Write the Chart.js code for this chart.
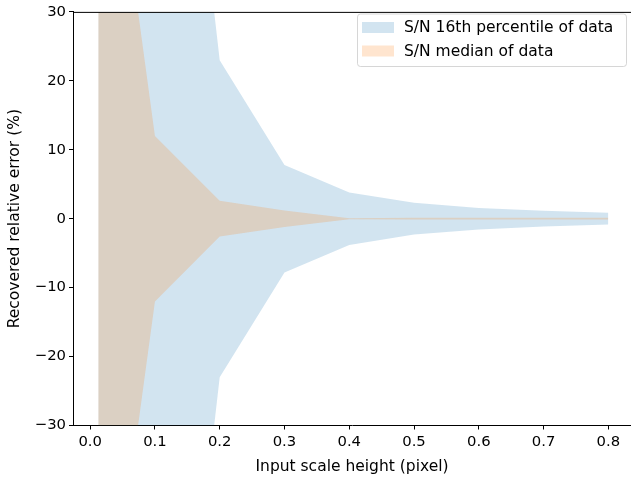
<!DOCTYPE html>
<html>
<head>
<meta charset="utf-8">
<script src="https://cdn.jsdelivr.net/npm/chart.js@4"></script>
<style>
  html, body { margin: 0; padding: 0; background: #fff; }
  #wrap { width: 631px; height: 479px; }
</style>
</head>
<body>
<div id="wrap"><canvas id="c" width="631" height="479"></canvas></div>
<script>
// Input scale height (pixel)
const scaleHeights = [0.0125, 0.025, 0.05, 0.1, 0.2, 0.3, 0.4, 0.5, 0.6, 0.7, 0.8];
// Recovered relative error (%) half-widths
const sn16Error   = [400, 250, 160, 105, 23.0, 7.8, 3.8, 2.3, 1.55, 1.15, 0.85];
const snMedError  = [200, 90, 46.6, 12.0, 2.6, 1.2, 0.08, 0.12, 0.12, 0.12, 0.12];
const seriesLabels = ['S/N 16th percentile of data', 'S/N median of data'];
const xTicks = [0.0, 0.1, 0.2, 0.3, 0.4, 0.5, 0.6, 0.7, 0.8];
const yTicks = [-30, -20, -10, 0, 10, 20, 30];

const BLUE = 'rgba(31,119,180,0.2)';
const ORANGE = 'rgba(255,127,14,0.2)';
const FAMILY = '"DejaVu Sans", sans-serif';
const TICKFONT = { family: FAMILY, size: 14.8 };
const LABELFONT = { family: FAMILY, size: 15.5 };

const pts = (xs, ys, sign) => xs.map((x, i) => ({ x: x, y: sign * ys[i] }));

const bandDs = (label, vals, color, sign, fill) => ({
  label: label,
  data: pts(scaleHeights, vals, sign),
  backgroundColor: color,
  borderColor: 'rgba(0,0,0,0)',
  borderWidth: 0,
  pointRadius: 0,
  tension: 0,
  fill: fill
});

const legendPlugin = {
  id: 'mplLegend',
  afterDraw(chart) {
    const ctx = chart.ctx;
    const a = chart.chartArea;
    ctx.save();
    ctx.strokeStyle = '#000';
    ctx.lineWidth = 1;
    ctx.beginPath();
    ctx.moveTo(a.left, a.top + 0.5);
    ctx.lineTo(a.right, a.top + 0.5);
    ctx.stroke();
    const bx = 357.5, by = 14, bw = 269, bh = 52.5, r = 3;
    ctx.beginPath();
    ctx.moveTo(bx + r, by);
    ctx.lineTo(bx + bw - r, by);
    ctx.quadraticCurveTo(bx + bw, by, bx + bw, by + r);
    ctx.lineTo(bx + bw, by + bh - r);
    ctx.quadraticCurveTo(bx + bw, by + bh, bx + bw - r, by + bh);
    ctx.lineTo(bx + r, by + bh);
    ctx.quadraticCurveTo(bx, by + bh, bx, by + bh - r);
    ctx.lineTo(bx, by + r);
    ctx.quadraticCurveTo(bx, by, bx + r, by);
    ctx.closePath();
    ctx.fillStyle = 'rgba(255,255,255,0.8)';
    ctx.fill();
    ctx.strokeStyle = 'rgba(204,204,204,0.8)';
    ctx.stroke();
    const colors = [BLUE, ORANGE];
    const rows = [27.5, 51];
    ctx.font = LABELFONT.size + 'px ' + LABELFONT.family;
    ctx.textBaseline = 'middle';
    ctx.textAlign = 'left';
    seriesLabels.forEach((lab, i) => {
      ctx.fillStyle = colors[i];
      ctx.fillRect(362, rows[i] - 5.5, 32, 11);
      ctx.fillStyle = '#000';
      ctx.fillText(lab, 404, rows[i] + 0.5);
    });
    ctx.restore();
  }
};

new Chart(document.getElementById('c'), {
  type: 'line',
  data: {
    datasets: [
      bandDs(seriesLabels[1], snMedError, ORANGE, 1, '+1'),
      bandDs(seriesLabels[1] + ' lower', snMedError, ORANGE, -1, false),
      bandDs(seriesLabels[0], sn16Error, BLUE, 1, '+1'),
      bandDs(seriesLabels[0] + ' lower', sn16Error, BLUE, -1, false)
    ]
  },
  options: {
    responsive: false,
    animation: false,
    layout: { padding: { top: 6, right: 0, left: 0, bottom: 0 } },
    plugins: { legend: { display: false }, tooltip: { enabled: false } },
    scales: {
      x: {
        type: 'linear',
        min: -0.0265,
        max: 0.835,
        afterBuildTicks: s => { s.ticks = xTicks.map(v => ({ value: v })); },
        afterFit: s => { s.height = 53.5; },
        ticks: {
          color: '#000', font: TICKFONT, padding: 4, maxRotation: 0,
          callback: v => v.toFixed(1)
        },
        grid: { drawOnChartArea: false, drawTicks: true, tickLength: 4, color: '#000', tickWidth: 1 },
        border: { display: true, color: '#000', width: 1 },
        title: { display: true, text: 'Input scale height (pixel)', color: '#000', font: LABELFONT, padding: { top: 0, bottom: 3 } }
      },
      y: {
        type: 'linear',
        min: -30,
        max: 30,
        afterBuildTicks: s => { s.ticks = yTicks.map(v => ({ value: v })); },
        afterFit: s => { s.width = 73; },
        ticks: {
          color: '#000', font: TICKFONT, padding: 3,
          callback: v => (v < 0 ? '\u2212' + Math.abs(v) : String(v))
        },
        grid: { drawOnChartArea: false, drawTicks: true, tickLength: 4, color: '#000', tickWidth: 1 },
        border: { display: true, color: '#000', width: 1 },
        title: { display: true, text: 'Recovered relative error (%)', color: '#000', font: LABELFONT, padding: { top: 6, bottom: 0 } }
      }
    }
  },
  plugins: [legendPlugin]
});
</script>
</body>
</html>
